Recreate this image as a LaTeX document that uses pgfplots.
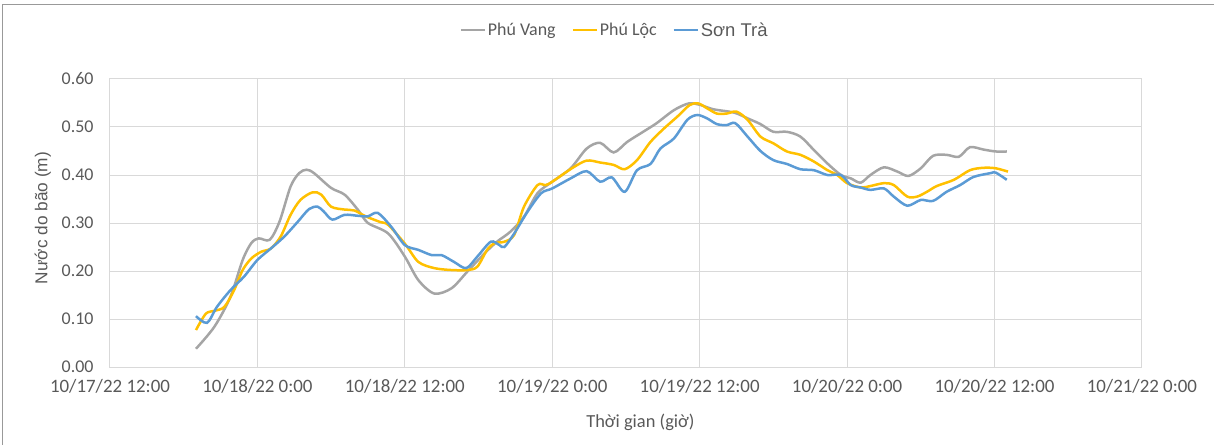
\documentclass[border=0pt]{standalone}
\usepackage{fontspec}
\setmainfont{Carlito}
\newfontfamily\arialf{Liberation Sans}
\usepackage{pgfplots}
\pgfplotsset{compat=1.18}
\definecolor{pvgray}{HTML}{A5A5A5}
\definecolor{plyellow}{HTML}{FFC000}
\definecolor{stblue}{HTML}{5B9BD5}
\definecolor{txt}{HTML}{595959}
\definecolor{gridc}{HTML}{D9D9D9}

\begin{document}
\begin{tikzpicture}
\useasboundingbox (-110bp,-78bp) rectangle (1104bp,367bp);
\draw[color=black!40, line width=1bp] (-107bp,-78bp) -- (-107bp,362bp) -- (1104bp,362bp);
\begin{axis}[
  scale only axis, width=1032bp, height=288bp,
  xmin=0, xmax=84, ymin=0, ymax=0.6,
  xtick={0,12,24,36,48,60,72,84},
  xticklabels={10/17/22 12:00,10/18/22 0:00,10/18/22 12:00,10/19/22 0:00,10/19/22 12:00,10/20/22 0:00,10/20/22 12:00,10/21/22 0:00},
  ytick={0,0.1,0.2,0.3,0.4,0.5,0.6},
  yticklabels={0.00,0.10,0.20,0.30,0.40,0.50,0.60},
  grid=major,
  major grid style={gridc, line width=1bp},
  axis line style={gridc, line width=1bp},
  major tick length=0pt,
  xticklabel style={font=\fontsize{19}{21}\selectfont, text=txt, yshift=-9bp},
  yticklabel style={font=\fontsize{18}{20}\selectfont, text=txt, xshift=-13bp},
  xlabel={Thời gian (giờ)},
  xlabel style={at={(axis description cs:0.514,-0.191)}, anchor=center, font=\fontsize{18.5}{21}\selectfont, text=txt},
  ylabel={Nước do bão (m)},
  ylabel style={at={(axis description cs:-0.065,0.517)}, anchor=center, font=\arialf\fontsize{17.3}{20}\selectfont, text=txt},
  legend columns=3,
  legend style={at={(axis description cs:0.489,1.17)}, anchor=center, draw=none, fill=none,
    font=\fontsize{18}{20}\selectfont, text=txt,
    /tikz/every even column/.append style={column sep=14bp}},
  legend image code/.code={\draw[#1, line width=2.2bp] (0bp,0bp) -- (24bp,0bp);},
  every axis plot/.append style={line width=2.5bp, smooth, no markers},
]
\addplot[pvgray] coordinates {
(7,0.038) (8.5,0.084) (9.8,0.146) (10.8,0.223) (11.5,0.258) (12.1,0.268) (13,0.265)
(13.8,0.303) (14.7,0.376) (15.4,0.404) (16,0.411) (16.6,0.404) (18,0.373) (19.1,0.359)
(20.2,0.327) (21,0.300) (22.65,0.278) (24,0.230) (25.1,0.181) (26.4,0.153)
(27.8,0.164) (29.1,0.199) (30.5,0.237) (31.5,0.261) (32.6,0.282) (33.7,0.313) (34.8,0.362)
(36,0.386) (37.5,0.414) (38.8,0.455) (39.9,0.467) (41,0.447) (42.1,0.469) (43.4,0.490)
(44.5,0.508) (45.9,0.535) (47.1,0.549) (48.05,0.546) (49.1,0.537) (50.8,0.530) (51.9,0.518)
(52.95,0.506) (54,0.490) (55.1,0.490) (56.2,0.480) (57.3,0.452) (58.4,0.424) (59.5,0.400)
(60.3,0.393) (61.1,0.384) (61.9,0.400) (63,0.416) (64.1,0.407) (65,0.398) (66,0.414)
(67,0.440) (68.1,0.442) (69.1,0.438) (70,0.458) (71.1,0.453) (72.1,0.449) (73,0.449)
};
\addlegendentry{Phú Vang}
\addplot[plyellow] coordinates {
(7,0.077) (7.8,0.111) (8.5,0.117) (9.3,0.125) (10.1,0.160) (10.8,0.202) (11.5,0.226)
(12.3,0.240) (13.1,0.247) (13.9,0.272) (14.7,0.317) (15.5,0.348) (16.5,0.364) (17.2,0.359)
(18,0.334) (19.1,0.328) (19.9,0.326) (20.8,0.314) (22,0.302) (22.65,0.296) (24,0.257)
(25.1,0.219) (26.4,0.206) (27.8,0.202) (29.1,0.202) (29.9,0.209) (30.7,0.244) (31.3,0.258)
(32.1,0.261) (32.9,0.275) (33.7,0.334) (34.8,0.379) (35.45,0.379) (36,0.386) (37.6,0.414)
(38.8,0.430) (39.9,0.426) (41,0.421) (41.9,0.412) (42.9,0.431) (44,0.469) (45.1,0.497)
(46.2,0.522) (47.2,0.546) (47.9,0.549) (48.6,0.539) (49.4,0.528) (50.2,0.528) (51,0.532)
(51.9,0.515) (52.95,0.480) (54,0.466) (55.1,0.449) (56.2,0.442) (57.3,0.428) (58.4,0.410)
(59.2,0.400) (60,0.383) (61.1,0.374) (61.9,0.377) (63,0.383) (63.8,0.379) (64.9,0.355)
(65.7,0.355) (66.5,0.365) (67.3,0.377) (68.7,0.390) (70,0.410) (71.1,0.415) (72.1,0.414)
(73.1,0.407)
};
\addlegendentry{Phú Lộc}
\addplot[stblue] coordinates {
(7,0.106) (7.9,0.092) (8.7,0.125) (9.8,0.160) (10.9,0.188) (12,0.223) (13.1,0.247)
(14.2,0.272) (15.3,0.303) (16.2,0.329) (16.9,0.334) (17.4,0.324) (18.1,0.307) (19.1,0.317)
(20.2,0.315) (21,0.314) (21.8,0.321) (22.9,0.292) (24,0.254) (25.1,0.244) (26.2,0.233)
(27,0.233) (28,0.219) (29,0.206) (29.9,0.230) (31,0.261) (31.7,0.254) (32.1,0.250)
(32.9,0.278) (34,0.324) (35.1,0.362) (36,0.372) (37.5,0.393) (38.8,0.408) (39.9,0.386)
(40.85,0.395) (41.9,0.365) (42.9,0.410) (44,0.423) (44.8,0.455) (45.9,0.476) (47,0.515)
(47.8,0.525) (48.6,0.518) (49.4,0.506) (50.2,0.504) (50.9,0.508) (51.9,0.480) (52.95,0.450)
(54,0.431) (55.1,0.423) (56.2,0.412) (57.3,0.410) (58.4,0.400) (59.5,0.400) (60.3,0.379)
(61.1,0.374) (61.9,0.369) (63,0.372) (63.8,0.355) (64.9,0.336) (66,0.348) (67,0.346)
(68.1,0.365) (69.2,0.379) (70.3,0.396) (71.7,0.404) (72.1,0.405) (73,0.390)
};
\addlegendentry{\arialf\fontsize{18.5}{20}\selectfont Sơn Trà}
\end{axis}
\end{tikzpicture}
\end{document}
